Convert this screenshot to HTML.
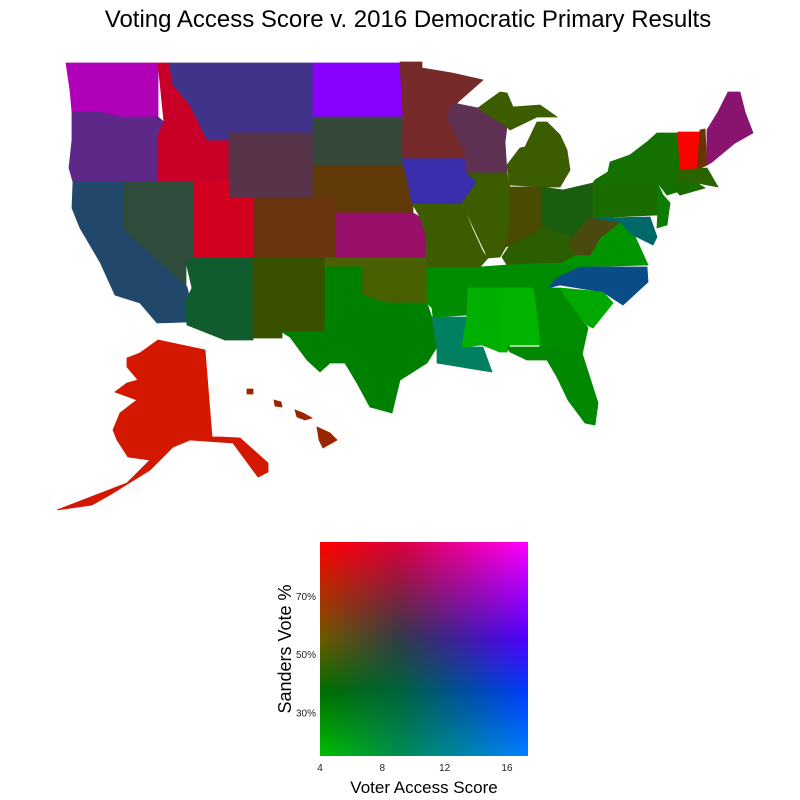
<!DOCTYPE html>
<html><head><meta charset="utf-8">
<style>
body{margin:0;background:#fff;width:800px;height:800px;overflow:hidden;font-family:"Liberation Sans",sans-serif}
#wrap{position:relative;width:800px;height:800px}
</style></head>
<body><div id="wrap">
<svg id="svg" width="800" height="800" style="position:absolute;left:0;top:0">
<text x="408" y="27" font-size="24" text-anchor="middle" fill="#000">Voting Access Score v. 2016 Democratic Primary Results</text>
<g id="map"></g>
<g id="leg"></g>
</svg>
<canvas id="cv" width="208" height="214" style="position:absolute;left:320px;top:542px"></canvas>
</div>
<script>
const stateNames=["WA","OR","ID","MT","WY","ND","SD","NE","CO","KS","UT","NV","CA","AZ","NM","OK","TX","LA","AR","MO","IA","MN","WI","MI-U","MI-L","IL","IN","OH","KY","TN","VA","WV","PA","NY","NJ","MD","VT","NH","ME","MA","CT","NC","SC","GA","AL","MS","FL","AK","HI-1","HI-2","HI-3","HI-4"];
const stateColors=["#b000b8","#5e2888","#c80028","#42338a","#58344a","#8800ff","#36483a","#623a0a","#683510","#980f6a","#d0001e","#304c3c","#21486a","#105c2e","#385000","#486000","#008000","#008060","#008c00","#3c5c00","#3a2eac","#762a2a","#5e3052","#3c5c00","#3c5c00","#3c5c00","#4a4a00","#1a5c10","#2a5e00","#008c00","#009400","#4a4a10","#1a6c00","#147000","#0a7c00","#006868","#ff0000","#6a3400","#881470","#2a6400","#1a6c00","#0a4c88","#00a800","#008c00","#00b400","#00b000","#008800","#d41800","#9a2600","#9a2600","#9a2600","#9a2600"];
const statePts=[
"66,63 158,63 158,117 120,117 100,112 72,112 70,90",
"72,112 100,112 120,117 158,117 164,122 158,135 158,182 73,182 69,168 72,140",
"158,63 169,63 173,85 190,105 207,140 229,140 229,182 158,182 158,135 164,122",
"169,63 313,63 313,133 229,133 229,140 207,140 190,105 173,85",
"229,133 313,133 313,198 229,198",
"313,63 401,63 403,117 313,117",
"313,117 403,117 404,166 313,166",
"313,166 404,166 413,205 413,213 336,213 336,198 313,198",
"253,198 336,198 336,258 253,258",
"336,213 413,213 420,217 425,232 427,258 336,258",
"193,182 229,182 229,198 253,198 253,258 193,258",
"123,182 193,182 193,258 186,262 186,286 123,230",
"73,182 123,182 123,230 187,287 190,300 187,322 157,323 140,303 115,295 100,262 80,228 72,208",
"186,262 193,258 253,258 253,340 225,340 187,325 185,302 192,288",
"253,258 325,258 325,332 282,332 282,338 253,338",
"325,258 427,258 427,303 387,303 362,295 362,267 325,267",
"325,267 362,267 362,295 387,303 427,303 432,318 437,347 427,363 400,380 392,413 370,407 357,383 345,363 330,363 320,372 307,360 290,337 282,332 325,332",
"432,317 467,317 462,347 483,347 492,372 467,368 437,363 437,347",
"427,267 480,267 472,295 467,315 433,317 432,308 427,303",
"412,203 462,203 472,228 483,252 488,258 480,267 427,267 425,232 420,217",
"402,158 465,158 477,182 467,195 462,203 412,203 407,178",
"400,62 422,62 422,68 452,73 483,80 458,102 447,118 465,152 465,158 402,158 403,117",
"453,103 478,108 507,127 505,142 507,173 467,173 465,152 447,118",
"478,108 500,92 507,93 513,107 540,105 557,117 537,117 510,130 507,127",
"520,148 525,147 537,122 547,122 560,135 567,150 570,170 560,187 543,187 510,185 507,165",
"467,173 507,173 510,187 510,225 507,245 500,257 488,258 477,235 462,203 477,182",
"510,187 542,187 542,228 533,235 523,242 505,247 510,225",
"542,187 563,190 593,183 593,215 580,228 573,237 542,228",
"502,257 510,245 533,235 542,228 573,237 568,245 577,255 562,263 507,265",
"480,267 507,265 562,263 580,267 557,278 548,288 467,288 473,278",
"562,263 577,255 600,238 620,222 633,232 648,265 580,267",
"573,237 580,228 593,215 605,218 620,222 600,238 590,255 577,255 568,245",
"593,183 657,182 663,198 657,215 593,218",
"595,180 608,172 610,162 630,155 647,142 657,133 678,133 680,170 677,192 667,195 657,182 593,183",
"657,182 663,195 670,203 667,225 657,228 658,208",
"593,218 605,218 650,217 657,237 653,245 633,235 620,222",
"678,132 700,132 697,170 680,170",
"700,130 705,129 707,165 697,170",
"707,130 718,112 728,92 740,92 745,112 753,133 735,143 712,162 707,165",
"678,170 707,168 718,187 697,183 677,182",
"677,182 697,183 705,188 680,195 677,192",
"580,267 647,267 648,282 623,305 603,292 560,285 548,288 557,278",
"560,288 603,292 613,303 593,328 587,325 563,295",
"533,288 560,288 563,295 588,328 582,355 540,348 537,315",
"502,288 533,288 537,315 540,345 510,345 507,352 500,352",
"468,288 502,288 500,352 482,345 462,347 467,315",
"507,347 540,347 575,350 582,353 598,403 595,425 585,423 568,400 557,377 547,360 527,360 510,352",
"158,340 205,350 212,437 220,437 240,438 268,463 268,472 258,477 233,443 190,440 173,447 150,470 113,493 92,505 57,510 127,483 150,460 128,457 117,440 113,430 120,413 137,400 115,392 127,383 138,380 127,367 127,358 140,353",
"247,389 253,389 253,394 247,394",
"274,400 281,402 282,407 275,406",
"295,410 303,413 312,418 305,420 297,417",
"317,427 330,433 337,440 323,448 319,440"
];
const NS="http://www.w3.org/2000/svg";
const map=document.getElementById('map');
for(let i=0;i<stateNames.length;i++){
  const p=document.createElementNS(NS,'polygon');
  p.setAttribute('points',statePts[i]);
  p.setAttribute('fill',stateColors[i]);
  p.setAttribute('stroke',stateColors[i]);
  p.setAttribute('stroke-width','0.8');
  
  
  map.appendChild(p);
}
// legend
const xTicks=[4,8,12,16];
const yTicks=[30,50,70];
const xMin=4,xMax=17.35,yMin=15.3,yMax=88.6;
const L=320,T=542,W=208,H=214;
const sx=v=>L+(v-xMin)/(xMax-xMin)*W;
const sy=v=>T+H-(v-yMin)/(yMax-yMin)*H;
const grid=[[[255,0,0],[220,0,60],[255,0,255]],[[110,90,0],[50,60,70],[80,0,255]],[[0,110,0],[0,100,60],[0,60,255]],[[0,190,0],[0,140,80],[0,128,255]]];
const gv=[0,0.45,0.7,1];
const cv=document.getElementById('cv').getContext('2d');
const img=cv.createImageData(W,H);
function lerp(a,b,t){return a.map((x,k)=>x+(b[k]-x)*t);}
for(let y=0;y<H;y++)for(let x=0;x<W;x++){
  const u=x/(W-1),v=y/(H-1);
  const cu=0.38;
  let i0,tu; if(u<cu){i0=0;tu=u/cu;}else{i0=1;tu=(u-cu)/(1-cu);}
  let j0=0; while(j0<2&&v>gv[j0+1])j0++;
  const tv=(v-gv[j0])/(gv[j0+1]-gv[j0]);
  const a=lerp(grid[j0][i0],grid[j0][i0+1],tu),b=lerp(grid[j0+1][i0],grid[j0+1][i0+1],tu);
  const c=lerp(a,b,tv);const o=(y*W+x)*4;
  img.data[o]=c[0];img.data[o+1]=c[1];img.data[o+2]=c[2];img.data[o+3]=255;
}
cv.putImageData(img,0,0);
const leg=document.getElementById('leg');
xTicks.forEach(t=>{
  const e=document.createElementNS(NS,'text');
  e.setAttribute('x',sx(t));e.setAttribute('y',771);e.setAttribute('font-size','10');
  e.setAttribute('text-anchor','middle');e.setAttribute('fill','#222');e.textContent=t;
  
  
  leg.appendChild(e);
});
yTicks.forEach(t=>{
  const e=document.createElementNS(NS,'text');
  e.setAttribute('x',316);e.setAttribute('y',sy(t)+3.5);e.setAttribute('font-size','10');
  e.setAttribute('text-anchor','end');e.setAttribute('fill','#222');e.textContent=t+'%';
  
  
  leg.appendChild(e);
});
</script>
<svg width="800" height="800" style="position:absolute;left:0;top:0;pointer-events:none">
<text x="424" y="793" font-size="17" text-anchor="middle" fill="#000">Voter Access Score</text>
<text transform="translate(291,649) rotate(-90)" font-size="18" text-anchor="middle" fill="#000">Sanders Vote %</text>
</svg>
</body></html>
